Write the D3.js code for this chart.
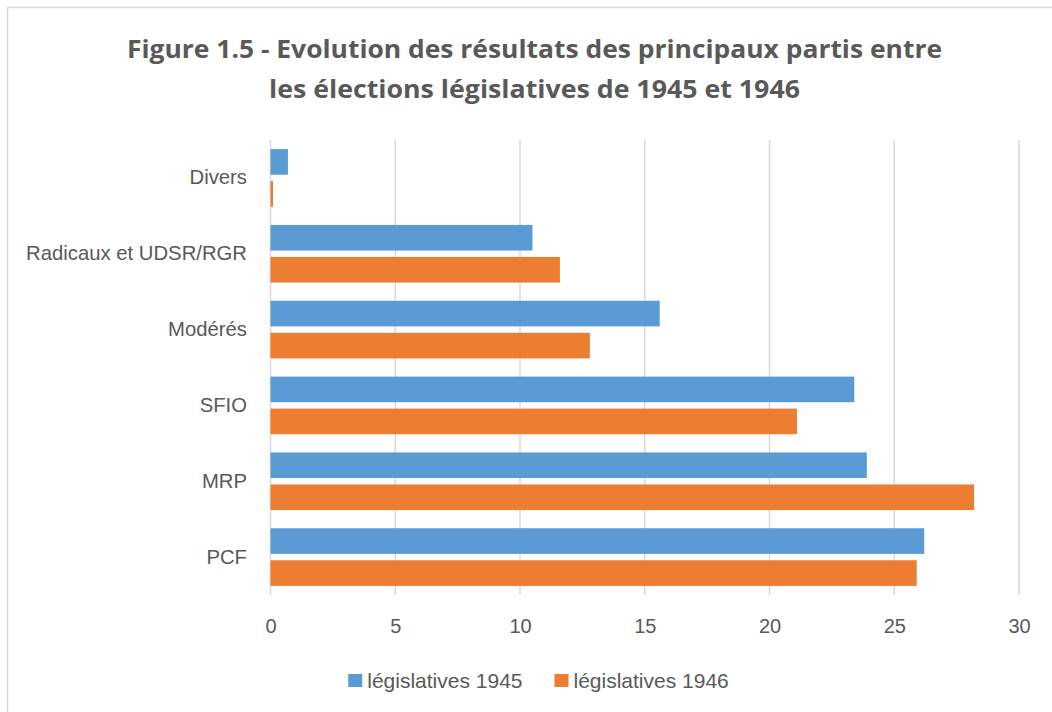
<!DOCTYPE html>
<html>
<head>
<meta charset="utf-8">
<script src="https://cdn.jsdelivr.net/npm/d3@7"></script>
<style>
  html, body { margin: 0; padding: 0; background: #fff; }
  svg { display: block; }
</style>
</head>
<body>
<svg id="chart" width="1052" height="712"></svg>
<script>
// ---- data ----
const categories = ["Divers", "Radicaux et UDSR/RGR", "Modérés", "SFIO", "MRP", "PCF"];
const seriesNames = ["législatives 1945", "législatives 1946"];
const values1945 = [0.7, 10.5, 15.6, 23.4, 23.9, 26.2];
const values1946 = [0.1, 11.6, 12.8, 21.1, 28.2, 25.9];
const xTicks = [0, 5, 10, 15, 20, 25, 30];
const titleLines = ["Figure 1.5 - Evolution des résultats des principaux partis entre",
                    "les élections législatives de 1945 et 1946"];

// ---- styles ----
const colors = ["#5B9BD5", "#ED7D31"];
const textColor = "#595959";
const gridColor = "#D9D9D9";
const fontFam = "'Liberation Sans', Arial, sans-serif";
const titleFont = "'Open Sans', 'Liberation Sans', sans-serif";

const svg = d3.select("#chart");

// outer frame
svg.append("rect")
  .attr("x", 7.5).attr("y", 7.5)
  .attr("width", 1060).attr("height", 720)
  .attr("fill", "#fff")
  .attr("stroke", "#D9D9D9").attr("stroke-width", 1.5);

// title
const titleTargets = [815, 531];
const titleY = [58, 98];
titleLines.forEach((t, i) => {
  const el = svg.append("text")
    .attr("x", 534.5).attr("y", titleY[i])
    .attr("text-anchor", "middle")
    .attr("font-family", titleFont)
    .attr("font-weight", "bold")
    .attr("font-size", 25.5)
    .attr("fill", textColor)
    .text(t);
  el.attr("textLength", titleTargets[i]).attr("lengthAdjust", "spacingAndGlyphs");
});

// scales
const x = d3.scaleLinear().domain([0, 30]).range([270.5, 1019]);
const y = d3.scaleBand().domain(categories).range([140, 595]).paddingInner(0.24).paddingOuter(0.12);
const ySub = d3.scaleBand().domain(seriesNames).range([0, y.bandwidth()]).paddingInner(0.2);

// gridlines
svg.append("g")
  .selectAll("line")
  .data(xTicks)
  .join("line")
  .attr("x1", d => x(d)).attr("x2", d => x(d))
  .attr("y1", 140).attr("y2", 595)
  .attr("stroke", gridColor).attr("stroke-width", 1.5);

// bars
const data = categories.map((c, i) => ({ cat: c, vals: [values1945[i], values1946[i]] }));
const groups = svg.append("g").selectAll("g")
  .data(data)
  .join("g")
  .attr("transform", d => `translate(0,${y(d.cat)})`);
groups.selectAll("rect")
  .data(d => d.vals.map((v, j) => ({ v, s: seriesNames[j], j })))
  .join("rect")
  .attr("x", x(0))
  .attr("y", d => ySub(d.s))
  .attr("width", d => x(d.v) - x(0))
  .attr("height", ySub.bandwidth())
  .attr("fill", d => colors[d.j]);

// x axis tick labels
const xAxis = d3.axisBottom(x).tickValues(xTicks).tickSize(0).tickPadding(0).tickFormat(d3.format("d"));
const gx = svg.append("g").attr("transform", "translate(0,619)").call(xAxis);
gx.select(".domain").remove();
gx.selectAll("text")
  .attr("font-family", fontFam).attr("font-size", 20).attr("fill", textColor)
  .attr("dy", "0.71em");

// y axis category labels
const yAxis = d3.axisLeft(y).tickSize(0).tickPadding(0);
const gy = svg.append("g").attr("transform", "translate(247,0)").call(yAxis);
gy.select(".domain").remove();
gy.selectAll("text")
  .attr("font-family", fontFam).attr("font-size", 20.3).attr("fill", textColor);

// legend
const legend = svg.append("g");
const items = legend.selectAll("g").data(seriesNames).join("g");
items.append("rect")
  .attr("width", 14).attr("height", 13)
  .attr("y", 674)
  .attr("fill", (d, i) => colors[i]);
items.append("text")
  .attr("x", 19).attr("y", 688)
  .attr("font-family", fontFam).attr("font-size", 21).attr("fill", textColor)
  .text(d => d);
let widths = [];
items.each(function () { widths.push(19 + d3.select(this).select("text").node().getComputedTextLength()); });
const gap = 32;
const total = d3.sum(widths) + gap * (widths.length - 1);
let cx = 538.5 - total / 2;
items.attr("transform", (d, i) => {
  const tx = cx;
  cx += widths[i] + gap;
  return `translate(${tx},0)`;
});
</script>
</body>
</html>
